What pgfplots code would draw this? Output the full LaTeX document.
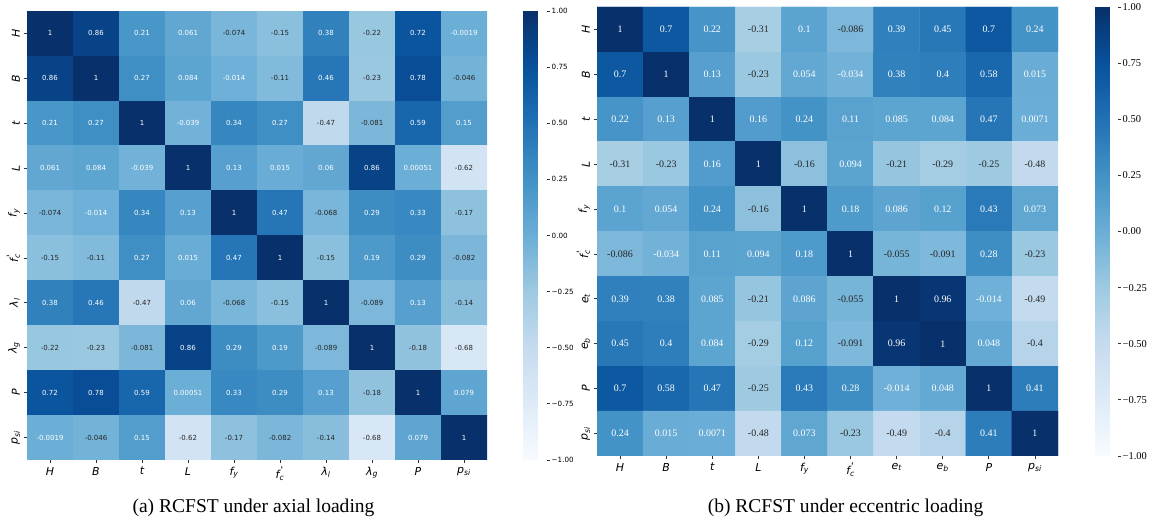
\documentclass[border=0pt]{standalone}
\usepackage{pgfplots}
\pgfplotsset{compat=1.18}
\usepackage{pgfplotstable}
\usepackage{fontspec}
\setmainfont{Liberation Serif}
\newfontfamily\dvs{DejaVu Sans}
\newfontfamily\tms{Liberation Serif}

\definecolor{anndark}{RGB}{38,38,38}
\definecolor{tickgray}{RGB}{50,50,50}

% cell annotation: light text on dark cells, dark text on light cells
\newcommand{\annot}[1]{\ifdim#1pt>-0.04pt\color{white}\else\color{anndark}\fi#1}
% f'_c with the prime stacked above the subscript
\newcommand{\fc}{f\rlap{\raisebox{0.42em}{\fontsize{9.5}{9.5}\selectfont\kern0.1em'}}\textsubscript{c}}

% correlation matrices: columns x, y (row index from bottom), c
\pgfplotstableread[row sep=\\]{
x y c\\
0 9 1\\ 1 9 0.86\\ 2 9 0.21\\ 3 9 0.061\\ 4 9 -0.074\\ 5 9 -0.15\\ 6 9 0.38\\ 7 9 -0.22\\ 8 9 0.72\\ 9 9 -0.0019\\
0 8 0.86\\ 1 8 1\\ 2 8 0.27\\ 3 8 0.084\\ 4 8 -0.014\\ 5 8 -0.11\\ 6 8 0.46\\ 7 8 -0.23\\ 8 8 0.78\\ 9 8 -0.046\\
0 7 0.21\\ 1 7 0.27\\ 2 7 1\\ 3 7 -0.039\\ 4 7 0.34\\ 5 7 0.27\\ 6 7 -0.47\\ 7 7 -0.081\\ 8 7 0.59\\ 9 7 0.15\\
0 6 0.061\\ 1 6 0.084\\ 2 6 -0.039\\ 3 6 1\\ 4 6 0.13\\ 5 6 0.015\\ 6 6 0.06\\ 7 6 0.86\\ 8 6 0.00051\\ 9 6 -0.62\\
0 5 -0.074\\ 1 5 -0.014\\ 2 5 0.34\\ 3 5 0.13\\ 4 5 1\\ 5 5 0.47\\ 6 5 -0.068\\ 7 5 0.29\\ 8 5 0.33\\ 9 5 -0.17\\
0 4 -0.15\\ 1 4 -0.11\\ 2 4 0.27\\ 3 4 0.015\\ 4 4 0.47\\ 5 4 1\\ 6 4 -0.15\\ 7 4 0.19\\ 8 4 0.29\\ 9 4 -0.082\\
0 3 0.38\\ 1 3 0.46\\ 2 3 -0.47\\ 3 3 0.06\\ 4 3 -0.068\\ 5 3 -0.15\\ 6 3 1\\ 7 3 -0.089\\ 8 3 0.13\\ 9 3 -0.14\\
0 2 -0.22\\ 1 2 -0.23\\ 2 2 -0.081\\ 3 2 0.86\\ 4 2 0.29\\ 5 2 0.19\\ 6 2 -0.089\\ 7 2 1\\ 8 2 -0.18\\ 9 2 -0.68\\
0 1 0.72\\ 1 1 0.78\\ 2 1 0.59\\ 3 1 0.00051\\ 4 1 0.33\\ 5 1 0.29\\ 6 1 0.13\\ 7 1 -0.18\\ 8 1 1\\ 9 1 0.079\\
0 0 -0.0019\\ 1 0 -0.046\\ 2 0 0.15\\ 3 0 -0.62\\ 4 0 -0.17\\ 5 0 -0.082\\ 6 0 -0.14\\ 7 0 -0.68\\ 8 0 0.079\\ 9 0 1\\
}\axialtab

\pgfplotstableread[row sep=\\]{
x y c\\
0 9 1\\ 1 9 0.7\\ 2 9 0.22\\ 3 9 -0.31\\ 4 9 0.1\\ 5 9 -0.086\\ 6 9 0.39\\ 7 9 0.45\\ 8 9 0.7\\ 9 9 0.24\\
0 8 0.7\\ 1 8 1\\ 2 8 0.13\\ 3 8 -0.23\\ 4 8 0.054\\ 5 8 -0.034\\ 6 8 0.38\\ 7 8 0.4\\ 8 8 0.58\\ 9 8 0.015\\
0 7 0.22\\ 1 7 0.13\\ 2 7 1\\ 3 7 0.16\\ 4 7 0.24\\ 5 7 0.11\\ 6 7 0.085\\ 7 7 0.084\\ 8 7 0.47\\ 9 7 0.0071\\
0 6 -0.31\\ 1 6 -0.23\\ 2 6 0.16\\ 3 6 1\\ 4 6 -0.16\\ 5 6 0.094\\ 6 6 -0.21\\ 7 6 -0.29\\ 8 6 -0.25\\ 9 6 -0.48\\
0 5 0.1\\ 1 5 0.054\\ 2 5 0.24\\ 3 5 -0.16\\ 4 5 1\\ 5 5 0.18\\ 6 5 0.086\\ 7 5 0.12\\ 8 5 0.43\\ 9 5 0.073\\
0 4 -0.086\\ 1 4 -0.034\\ 2 4 0.11\\ 3 4 0.094\\ 4 4 0.18\\ 5 4 1\\ 6 4 -0.055\\ 7 4 -0.091\\ 8 4 0.28\\ 9 4 -0.23\\
0 3 0.39\\ 1 3 0.38\\ 2 3 0.085\\ 3 3 -0.21\\ 4 3 0.086\\ 5 3 -0.055\\ 6 3 1\\ 7 3 0.96\\ 8 3 -0.014\\ 9 3 -0.49\\
0 2 0.45\\ 1 2 0.4\\ 2 2 0.084\\ 3 2 -0.29\\ 4 2 0.12\\ 5 2 -0.091\\ 6 2 0.96\\ 7 2 1\\ 8 2 0.048\\ 9 2 -0.4\\
0 1 0.7\\ 1 1 0.58\\ 2 1 0.47\\ 3 1 -0.25\\ 4 1 0.43\\ 5 1 0.28\\ 6 1 -0.014\\ 7 1 0.048\\ 8 1 1\\ 9 1 0.41\\
0 0 0.24\\ 1 0 0.015\\ 2 0 0.0071\\ 3 0 -0.48\\ 4 0 0.073\\ 5 0 -0.23\\ 6 0 -0.49\\ 7 0 -0.4\\ 8 0 0.41\\ 9 0 1\\
}\eccentab

\pgfplotsset{
  colormap={blues}{rgb255=(247,251,255) rgb255=(222,235,247) rgb255=(198,219,239)
    rgb255=(158,202,225) rgb255=(107,174,214) rgb255=(66,146,198) rgb255=(33,113,181)
    rgb255=(8,81,156) rgb255=(8,48,107)},
  corrmap/.style={
    scale only axis, height=449bp,
    xmin=-0.5, xmax=9.5, ymin=-0.5, ymax=9.5,
    enlargelimits=false,
    axis line style={draw=none},
    xtick={0,...,9}, ytick={0,...,9},
    xtick pos=left, ytick pos=left,
    tick align=outside, major tick length=3.5bp,
    tick style={tickgray, line width=0.8bp},
    ticklabel style={font=\dvs\itshape\fontsize{11}{13}\selectfont, text=black},
    yticklabel style={rotate=90, anchor=south},
    point meta min=-1, point meta max=1,
    colorbar,
  },
  cbar/.style={
    at={(parent axis.north east)}, anchor=north west,
    scale only axis, height=449bp,
    axis line style={draw=none},
    ytick={-1,-0.75,-0.5,-0.25,0,0.25,0.5,0.75,1},
    yticklabels={−1.00,−0.75,−0.50,−0.25,0.00,0.25,0.50,0.75,1.00},
    ytick pos=right, tick align=outside, major tick length=3.5bp,
    tick style={tickgray, line width=0.8bp},
    yticklabel style={text=black, inner sep=1.5bp},
  },
}

\begin{document}
\begin{tikzpicture}
\path[use as bounding box] (0,0) rectangle (1153bp,520bp);

% (a) axial loading
\begin{axis}[corrmap, at={(27bp,60bp)}, anchor=south west, width=460bp,
  xticklabels={H,B,t,L,f\textsubscript{y},\fc,λ\textsubscript{l},λ\textsubscript{g},P,p\textsubscript{si}},
  yticklabels={p\textsubscript{si},P,λ\textsubscript{g},λ\textsubscript{l},\fc,f\textsubscript{y},L,t,B,H},
  colorbar style={cbar, xshift=28bp, width=23bp,
    yticklabel style={font=\dvs\fontsize{7.2}{8}\selectfont}},
]
\addplot[matrix plot*, point meta=explicit, mesh/cols=10] table[x=x, y=y, meta=c] {\axialtab};
\addplot[only marks, mark=none, point meta=explicit symbolic,
  nodes near coords={\annot{\pgfplotspointmeta}},
  every node near coord/.append style={anchor=center, inner sep=0pt,
    font=\dvs\fontsize{7}{8}\selectfont}]
  table[x=x, y=y, meta=c] {\axialtab};
\end{axis}

% (b) eccentric loading
\begin{axis}[corrmap, at={(597bp,64bp)}, anchor=south west, width=461bp,
  xticklabels={H,B,t,L,f\textsubscript{y},\fc,e\textsubscript{t},e\textsubscript{b},P,p\textsubscript{si}},
  yticklabels={p\textsubscript{si},P,e\textsubscript{b},e\textsubscript{t},\fc,f\textsubscript{y},L,t,B,H},
  colorbar style={cbar, xshift=29bp, width=22bp,
    yticklabel style={font=\tms\fontsize{10.5}{12}\selectfont}},
]
\addplot[matrix plot*, point meta=explicit, mesh/cols=10] table[x=x, y=y, meta=c] {\eccentab};
\addplot[only marks, mark=none, point meta=explicit symbolic,
  nodes near coords={\annot{\pgfplotspointmeta}},
  every node near coord/.append style={anchor=center, inner sep=0pt,
    font=\tms\fontsize{10}{12}\selectfont}]
  table[x=x, y=y, meta=c] {\eccentab};
\end{axis}

\node[anchor=base, font=\tms\fontsize{19.6}{23}\selectfont] at (253.5bp,7.5bp) {(a) RCFST under axial loading};
\node[anchor=base, font=\tms\fontsize{19.6}{23}\selectfont] at (845.5bp,7.5bp) {(b) RCFST under eccentric loading};
\end{tikzpicture}
\end{document}
